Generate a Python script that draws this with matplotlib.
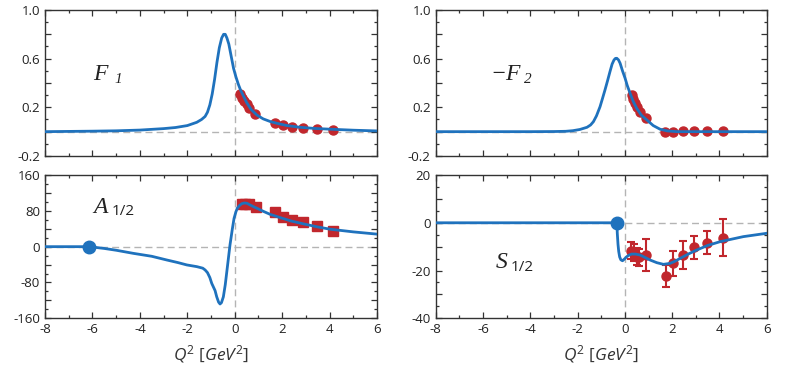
import numpy
import matplotlib
matplotlib.use("Agg")
from matplotlib import pyplot
from matplotlib.ticker import MultipleLocator

# -----------------------------------------------------------------------------
# curves (Q^2 in GeV^2)
f1_curve_q2 = [-8.0, -6.0, -5.0, -4.0, -3.0, -2.5, -2.0, -1.6, -1.4, -1.25,
               -1.15, -1.05, -0.95, -0.85, -0.75, -0.65, -0.55, -0.47, -0.40,
               -0.33, -0.25, -0.15, -0.05, 0.05, 0.15, 0.25, 0.35, 0.5, 0.7,
               0.93, 1.2, 1.5, 1.77, 2.2, 2.75, 3.4, 4.16, 5.0, 6.0]
f1_curve = [0.000, 0.004, 0.007, 0.013, 0.025, 0.034, 0.050, 0.077, 0.100,
            0.125, 0.16, 0.22, 0.31, 0.43, 0.57, 0.69, 0.77, 0.80, 0.80, 0.77,
            0.72, 0.62, 0.52, 0.45, 0.39, 0.34, 0.30, 0.24, 0.18, 0.137,
            0.105, 0.083, 0.069, 0.050, 0.036, 0.026, 0.019, 0.012, 0.006]

f2_curve_q2 = [-8.0, -4.0, -3.0, -2.5, -2.2, -1.9, -1.6, -1.45, -1.33, -1.2,
               -1.05, -0.95, -0.84, -0.73, -0.63, -0.54, -0.46, -0.40, -0.34,
               -0.27, -0.20, -0.10, 0.01, 0.1, 0.22, 0.35, 0.5, 0.7, 0.93,
               1.2, 1.49, 1.8, 2.2, 6.0]
f2_curve = [0.0, 0.0, 0.001, 0.003, 0.008, 0.018, 0.036, 0.055, 0.082, 0.13,
            0.205, 0.27, 0.343, 0.42, 0.493, 0.555, 0.589, 0.602, 0.603,
            0.59, 0.562, 0.50, 0.439, 0.38, 0.316, 0.25, 0.192, 0.135, 0.096,
            0.05, 0.02, 0.006, 0.0, 0.0]

a_curve_q2 = [-8.0, -6.13, -5.5, -5.0, -4.28, -3.5, -2.87, -2.4, -2.02, -1.6,
              -1.35, -1.25, -1.15, -1.05, -0.97, -0.83, -0.76, -0.68, -0.62,
              -0.56, -0.48, -0.40, -0.31, -0.20, -0.10, -0.03, 0.05, 0.11,
              0.2, 0.30, 0.4, 0.51, 0.65, 0.8, 0.93, 1.2, 1.5, 1.91, 2.4,
              2.89, 3.5, 4.02, 5.0, 6.0]
a_curve = [0.0, 0.0, -4, -8, -14.9, -21.5, -29.7, -35.5, -40.8, -44.6, -48,
           -52, -58, -69, -82, -98, -112, -124, -128, -125, -112, -85, -45,
           4, 40, 63, 78, 86, 92, 96, 97.5, 97, 93, 89, 86, 79, 72, 65, 57,
           51, 44, 39, 33, 28]

s_curve_q2 = [-8.0, -0.34, -0.33, -0.32, -0.29, -0.26, -0.22, -0.17, -0.10,
              -0.02, 0.08, 0.18, 0.29, 0.45, 0.64, 0.85, 1.07, 1.35, 1.63,
              1.91, 2.1, 2.34, 2.7, 3.04, 3.5, 4.03, 5.01, 6.0]
s_curve = [0.0, 0.0, -2, -4.4, -9, -12, -14.3, -15.5, -15.9, -15.2, -14.2,
           -13.5, -13.1, -13.1, -13.5, -14.5, -15.6, -16.7, -17.4, -17.0,
           -16.2, -14.9, -13.0, -11.4, -9.5, -7.9, -5.8, -4.4]

# pole markers
a_pole = (-6.13, 0.0)
s_pole = (-0.34, 0.0)

# data points
f1_q2 = [0.22, 0.31, 0.39, 0.50, 0.62, 0.87, 1.71, 2.02, 2.42, 2.87, 3.46, 4.13]
f1 = [0.31, 0.28, 0.255, 0.23, 0.195, 0.145, 0.075, 0.055, 0.04, 0.027,
      0.02, 0.014]

f2_q2 = [0.29, 0.36, 0.43, 0.53, 0.64, 0.90, 1.70, 2.05, 2.45, 2.93, 3.46, 4.17]
f2 = [0.30, 0.266, 0.233, 0.20, 0.164, 0.11, 0.0, 0.0, 0.005, 0.005, 0.005,
      0.005]
f2_err = [0.025, 0.025, 0.025, 0.025, 0.025, 0.025, 0.01, 0.01, 0.01, 0.01,
          0.01, 0.01]

a_q2 = [0.30, 0.42, 0.60, 0.89, 1.70, 2.02, 2.40, 2.89, 3.46, 4.13]
a = [94.6, 95, 95.3, 88, 78.2, 65.6, 59.6, 54.5, 46.2, 35.7]
a_err = [3, 3, 3, 3, 5, 5, 5, 5, 5, 7]

s_q2 = [0.25, 0.40, 0.50, 0.61, 0.90, 1.73, 2.05, 2.45, 2.93, 3.46, 4.14]
s = [-11.7, -12.5, -14.2, -14.4, -13.5, -22.3, -17.0, -13.5, -10.3, -8.3, -6.2]
s_err = [3.5, 3.5, 3.5, 3.5, 6.8, 4.5, 5.2, 5.9, 4.9, 4.8, 7.6]

# -----------------------------------------------------------------------------
blue = '#1f72bd'
red = '#c1272d'
grey = '#b4b4b4'

pyplot.rcParams['font.family'] = ['Open Sans', 'DejaVu Sans']
pyplot.rcParams['mathtext.fontset'] = 'custom'
pyplot.rcParams['mathtext.it'] = 'Open Sans:italic'
pyplot.rcParams['mathtext.rm'] = 'Open Sans'

fig = pyplot.figure(figsize=(8.07, 3.73), dpi=100)

ax_f1 = fig.add_axes([0.0558, 0.5818, 0.4114, 0.3914])
ax_f2 = fig.add_axes([0.5399, 0.5818, 0.4102, 0.3914])
ax_a = fig.add_axes([0.0558, 0.1466, 0.4114, 0.3842])
ax_s = fig.add_axes([0.5399, 0.1466, 0.4102, 0.3842])


def style(ax, ymin, ymax, ymaj, ymin_step, ylabels, xlabels):
    ax.set_xlim(-8, 6)
    ax.set_ylim(ymin, ymax)
    ax.xaxis.set_major_locator(MultipleLocator(2))
    ax.xaxis.set_minor_locator(MultipleLocator(1))
    yt = numpy.arange(ymin, ymax + ymaj / 2, ymaj)
    ax.set_yticks(yt)
    ax.set_yticklabels(ylabels)
    ax.yaxis.set_minor_locator(MultipleLocator(ymin_step))
    ax.tick_params(which='both', direction='in', top=True, right=True,
                   colors='#333333', labelcolor='#222222', labelsize=9.5,
                   width=0.9)
    ax.tick_params(which='major', length=4.5)
    ax.tick_params(which='minor', length=2.5)
    if xlabels:
        ax.set_xticks(range(-8, 7, 2))
        ax.set_xticklabels([str(v) for v in range(-8, 7, 2)])
        ax.set_xlabel('$Q^2$ [$GeV^2$]', fontsize=12.5, labelpad=5,
                      color='#333333')
    else:
        ax.set_xticklabels([])
    for sp in ax.spines.values():
        sp.set_color('#333333')
        sp.set_linewidth(1.0)
    # zero lines
    ax.axhline(0, color=grey, ls=(0, (5, 3)), lw=1.0, zorder=1)
    ax.axvline(0, color=grey, ls=(0, (5, 3)), lw=1.0, zorder=1)


style(ax_f1, -0.2, 1.0, 0.2, 0.1,
      ['-0.2', '', '0.2', '', '0.6', '', '1.0'], False)
style(ax_f2, -0.2, 1.0, 0.2, 0.1,
      ['-0.2', '', '0.2', '', '0.6', '', '1.0'], False)
style(ax_a, -160, 160, 40, 20,
      ['-160', '', '-80', '', '0', '', '80', '', '160'], True)
style(ax_s, -40, 20, 10, 5,
      ['-40', '', '-20', '', '0', '', '20'], True)

# curves
ax_f1.plot(f1_curve_q2, f1_curve, color=blue, lw=2.0, zorder=4)
ax_f2.plot(f2_curve_q2, f2_curve, color=blue, lw=2.0, zorder=4)
ax_a.plot(a_curve_q2, a_curve, color=blue, lw=2.0, zorder=4)
ax_s.plot(s_curve_q2, s_curve, color=blue, lw=2.0, zorder=4)

ax_a.plot(*a_pole, 'o', color=blue, ms=9, zorder=5)
ax_s.plot(*s_pole, 'o', color=blue, ms=9, zorder=5)

# data
ax_f1.plot(f1_q2, f1, 'o', color=red, ms=6.5, zorder=3)
ax_f2.errorbar(f2_q2, f2, yerr=f2_err, fmt='o', color=red, ms=6.5,
               elinewidth=1.5, capsize=2.5, capthick=1.5, zorder=3)
ax_a.errorbar(a_q2, a, yerr=a_err, fmt='s', color=red, ms=6.5,
              elinewidth=1.5, capsize=2.5, capthick=1.5, zorder=3)
ax_s.errorbar(s_q2, s, yerr=s_err, fmt='o', color=red, ms=6.5,
              elinewidth=1.5, capsize=3, capthick=1.5, zorder=3)

# panel labels
serif = {'family': 'Liberation Serif', 'style': 'italic', 'color': '#222222'}
ax_f1.text(0.145, 0.52, 'F', fontsize=17, transform=ax_f1.transAxes, **serif)
ax_f1.text(0.21, 0.50, '1', fontsize=11, transform=ax_f1.transAxes, **serif)
ax_f2.text(0.166, 0.52, '\u2212F', fontsize=17, transform=ax_f2.transAxes,
           **serif)
ax_f2.text(0.268, 0.50, '2', fontsize=11, transform=ax_f2.transAxes, **serif)
ax_a.text(0.145, 0.735, 'A', fontsize=17, transform=ax_a.transAxes, **serif)
ax_a.text(0.20, 0.72, '1/2', fontsize=11, transform=ax_a.transAxes,
          color='#222222')
ax_s.text(0.18, 0.35, 'S', fontsize=17, transform=ax_s.transAxes, **serif)
ax_s.text(0.225, 0.33, '1/2', fontsize=11, transform=ax_s.transAxes,
          color='#222222')

fig.savefig('out.png', dpi=100)
